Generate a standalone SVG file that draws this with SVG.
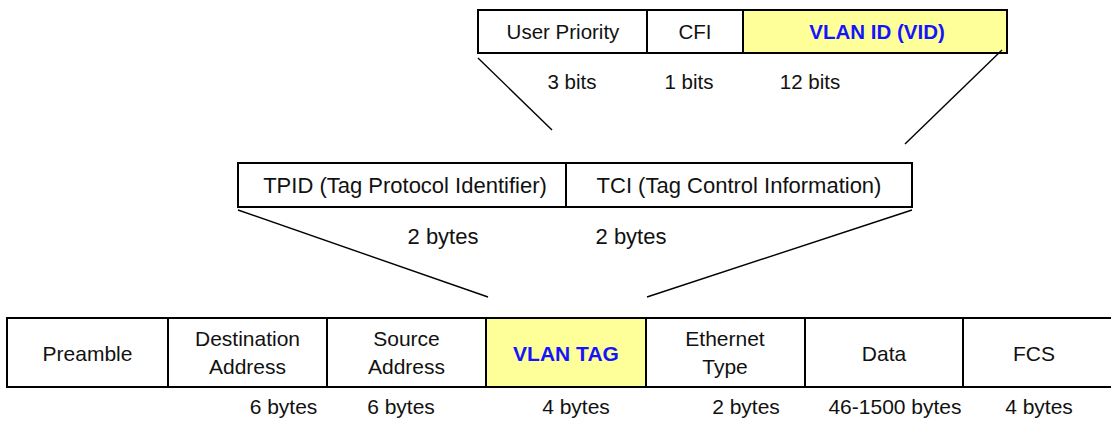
<svg xmlns="http://www.w3.org/2000/svg" width="1111" height="421" viewBox="0 0 1111 421">
<style>
  .box { fill: #ffffff; stroke: #000000; stroke-width: 2; }
  .hl { fill: #ffff99; stroke: #000000; stroke-width: 2; }
  .div { stroke: #000000; stroke-width: 2; }
  .t { font-family: "Liberation Sans", Arial, sans-serif; fill: #111111; text-anchor: middle; }
  .top { font-size: 20.5px; }
  .mid { font-size: 22px; }
  .bot { font-size: 21px; }
  .blue { fill: #1414ff; font-weight: bold; }
  .conn line { stroke: #000000; stroke-width: 1.4; }
</style>
<rect width="1111" height="421" fill="#ffffff"/>

<g id="tci-fields">
  <rect class="box" x="478" y="10" width="529" height="43"/>
  <rect class="hl" x="743" y="10" width="264" height="43"/>
  <line class="div" x1="647" y1="10" x2="647" y2="53"/>
  <text class="t top" x="563" y="39">User Priority</text>
  <text class="t top" x="695" y="39">CFI</text>
  <text class="t top blue" x="877" y="39">VLAN ID (VID)</text>
  <text class="t top" x="572" y="88.5">3 bits</text>
  <text class="t top" x="689" y="88.5">1 bits</text>
  <text class="t top" x="810" y="88.5">12 bits</text>
</g>

<g id="vlan-tag-fields">
  <rect class="box" x="238" y="163" width="674" height="44"/>
  <line class="div" x1="566" y1="163" x2="566" y2="207"/>
  <text class="t mid" x="405" y="193">TPID (Tag Protocol Identifier)</text>
  <text class="t mid" x="739" y="193">TCI (Tag Control Information)</text>
  <text class="t mid" x="443" y="243.5">2 bytes</text>
  <text class="t mid" x="631" y="243.5">2 bytes</text>
</g>

<g id="ethernet-frame">
  <rect class="box" x="7" y="318" width="1106" height="69"/>
  <rect class="hl" x="486" y="318" width="160" height="69"/>
  <line class="div" x1="168" y1="318" x2="168" y2="387"/>
  <line class="div" x1="327" y1="318" x2="327" y2="387"/>
  <line class="div" x1="805" y1="318" x2="805" y2="387"/>
  <line class="div" x1="963" y1="318" x2="963" y2="387"/>
  <text class="t bot" x="87.5" y="360.5">Preamble</text>
  <text class="t bot" x="247.5" y="346">Destination</text>
  <text class="t bot" x="247.5" y="373.5">Address</text>
  <text class="t bot" x="406.5" y="346">Source</text>
  <text class="t bot" x="406.5" y="373.5">Address</text>
  <text class="t bot blue" x="566" y="360.5">VLAN TAG</text>
  <text class="t bot" x="725" y="346">Ethernet</text>
  <text class="t bot" x="725" y="373.5">Type</text>
  <text class="t bot" x="884" y="360.5">Data</text>
  <text class="t bot" x="1034" y="360.5">FCS</text>
  <text class="t bot" x="283.5" y="414">6 bytes</text>
  <text class="t bot" x="401" y="414">6 bytes</text>
  <text class="t bot" x="576" y="414">4 bytes</text>
  <text class="t bot" x="746" y="414">2 bytes</text>
  <text class="t bot" x="895" y="414">46-1500 bytes</text>
  <text class="t bot" x="1039" y="414">4 bytes</text>
</g>

<g id="connectors" class="conn">
  <line x1="478" y1="58" x2="552" y2="130"/>
  <line x1="1002" y1="50" x2="905" y2="144"/>
  <line x1="238" y1="210" x2="488" y2="297"/>
  <line x1="912" y1="210" x2="647" y2="297"/>
</g>
</svg>
